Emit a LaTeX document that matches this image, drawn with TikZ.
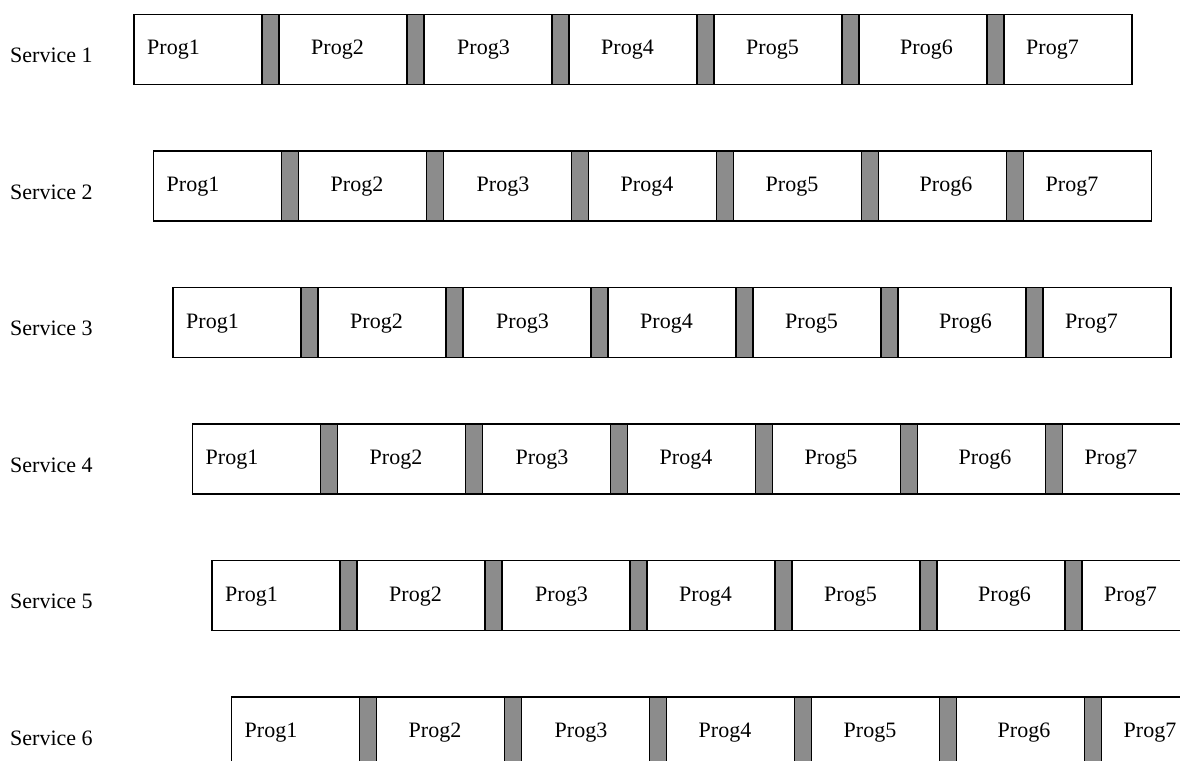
\documentclass[tikz,border=0pt]{standalone}
\usepackage{fontspec}
\setmainfont{Liberation Serif}
\definecolor{barg}{RGB}{140,140,140}
\begin{document}
\begin{tikzpicture}[x=1pt,y=-1pt,
  seg/.style={draw=black, line width=1.3pt, fill=white, minimum width=128pt, minimum height=70pt, anchor=north west, inner sep=0pt, outer sep=0pt},
  bar/.style={draw=black, line width=1.3pt, fill=barg, minimum width=17pt, minimum height=70pt, anchor=north west, inner sep=0pt, outer sep=0pt},
  lbl/.style={font=\fontsize{22}{26}\selectfont, anchor=base west, inner sep=0pt},
]
\useasboundingbox (0,0) rectangle (1180,760);
\clip (0,0) rectangle (1180,760);
\foreach \r in {1,...,6} {
  \pgfmathsetmacro{\xo}{134+19.5*(\r-1)}
  \pgfmathsetmacro{\yo}{14.5+136.5*(\r-1)}
  \node[lbl] (s\r) at (10,\yo+48) {Service \r};
  \foreach \p/\dx in {1/13,2/32,3/33,4/32,5/32,6/41,7/22} {
    \node[seg] (b\r-\p) at (\xo+145*\p-145,\yo) {};
    \node[lbl] (t\r-\p) at (\xo+145*\p-145+\dx,\yo+40.5) {Prog\p};
  }
  \foreach \p in {1,...,6} {
    \node[bar] (g\r-\p) at (\xo+145*\p-17,\yo) {};
  }
}
\end{tikzpicture}
\end{document}
